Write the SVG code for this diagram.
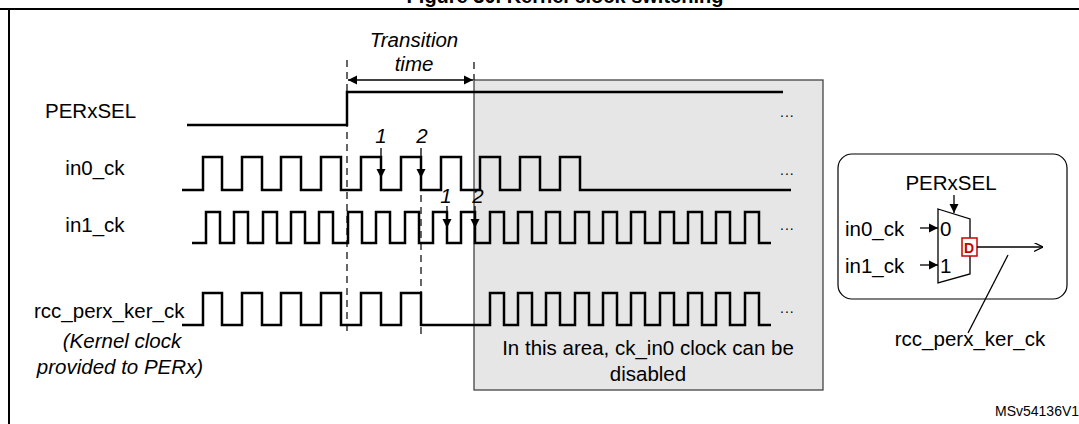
<svg xmlns="http://www.w3.org/2000/svg" width="1079" height="424" viewBox="0 0 1079 424">
<defs>
<style>
text{font-family:"Liberation Sans",Arial,sans-serif;fill:#000}
.lbl{font-size:20.5px}
.it{font-size:20.5px;font-style:italic}
.dots{font-size:14px;letter-spacing:1px}
.wave{fill:none;stroke:#000;stroke-width:2.5;stroke-linejoin:miter}
.dash{fill:none;stroke:#000;stroke-width:1.2;stroke-dasharray:7,5}
.thin{fill:none;stroke:#000;stroke-width:1.3}
</style>
<marker id="ah" viewBox="0 0 10 10" refX="10" refY="5" markerWidth="7" markerHeight="7" orient="auto-start-reverse"><path d="M0,0L10,5L0,10z" fill="#000"/></marker>
<marker id="oa" viewBox="0 0 10 10" refX="10" refY="5" markerWidth="9" markerHeight="9" orient="auto" markerUnits="userSpaceOnUse"><path d="M0,0L10,5L0,10" fill="none" stroke="#000" stroke-width="1.3"/></marker>
</defs>
<rect width="1079" height="424" fill="#fff"/>
<text x="565" y="3" font-size="20" font-weight="bold" text-anchor="middle">Figure 30. Kernel clock switching</text>
<path d="M0,9H1079M9,9V424" fill="none" stroke="#000" stroke-width="2"/>

<g id="gray-area">
<rect x="474" y="80" width="349" height="310" fill="#e6e6e6" stroke="#444" stroke-width="1.3"/>
<text class="lbl" x="648" y="355" text-anchor="middle">In this area, ck_in0 clock can be</text>
<text class="lbl" x="648" y="381" text-anchor="middle">disabled</text>
</g>

<g id="labels">
<text class="lbl" x="45" y="118">PERxSEL</text>
<text class="lbl" x="95" y="175" text-anchor="middle">in0_ck</text>
<text class="lbl" x="95" y="232" text-anchor="middle">in1_ck</text>
<text class="lbl" x="34" y="318">rcc_perx_ker_ck</text>
<text class="it" x="122" y="348" text-anchor="middle">(Kernel clock</text>
<text class="it" x="120" y="374" text-anchor="middle">provided to PERx)</text>
<text class="it" x="414" y="47" text-anchor="middle">Transition</text>
<text class="it" x="414" y="71" text-anchor="middle">time</text>
<text class="dots" x="780" y="117">...</text>
<text class="dots" x="780" y="175">...</text>
<text class="dots" x="780" y="230">...</text>
<text class="dots" x="780" y="313">...</text>
<text class="it" x="381" y="143" text-anchor="middle">1</text>
<text class="it" x="422" y="143" text-anchor="middle">2</text>
<text class="it" x="446" y="203" text-anchor="middle">1</text>
<text class="it" x="478" y="203" text-anchor="middle">2</text>
<text x="995" y="416" font-size="14" fill="#333">MSv54136V1</text>
</g>

<g id="waves">
<path class="wave" d="M187,125H347V92H783"/>
<path class="wave" d="M182,190H203V157H222V190H242V157H262V190H281V157H301V190H321V157H341V190H361V157H381V190H401V157H421V190H441V157H461V190H480V157H500V190H520V157H540V190H560V157H580V190H791"/>
<path class="wave" d="M192,243H206V212H220V243H234V212H248V243H263V212H277V243H291V212H305V243H319V212H333V243H348V212H362V243H376V212H390V243H405V212H419V243H433V212H447V243H461V212H475V243H490V212H504V243H518V212H532V243H546V212H560V243H575V212H589V243H603V212H617V243H631V212H645V243H660V212H674V243H688V212H702V243H716V212H730V243H745V212H759V243H771"/>
<path class="wave" d="M182,325H203V293H222V325H242V293H262V325H281V293H301V325H321V293H341V325H361V293H381V325H401V293H421V325H490V293H504V325H518V293H532V325H546V293H560V325H575V293H589V325H603V293H617V325H631V293H645V325H660V293H674V325H688V293H702V325H716V293H730V325H745V293H759V325H771"/>
</g>

<g id="connectors">
<path class="dash" d="M347,60V335M421,195V335M474,62V80"/>
<line class="thin" x1="348" y1="80" x2="473" y2="80" marker-start="url(#ah)" marker-end="url(#ah)"/>
<line class="thin" x1="381" y1="148" x2="381" y2="178" marker-end="url(#ah)"/>
<line class="thin" x1="421" y1="148" x2="421" y2="178" marker-end="url(#ah)"/>
<line class="thin" x1="447" y1="206" x2="447" y2="228" marker-end="url(#ah)"/>
<line class="thin" x1="475" y1="206" x2="475" y2="228" marker-end="url(#ah)"/>
</g>

<g id="mux-box">
<rect x="838" y="154" width="229" height="145" rx="14" fill="#fff" stroke="#000" stroke-width="1.2"/>
<text class="lbl" x="951" y="190" text-anchor="middle">PERxSEL</text>
<line class="thin" x1="954" y1="195" x2="954" y2="213" marker-end="url(#ah)"/>
<path d="M938,209L970,219V274L938,283Z" fill="#fff" stroke="#000" stroke-width="1.3"/>
<text class="lbl" x="940" y="236">0</text>
<text class="lbl" x="940" y="273">1</text>
<text class="lbl" x="845" y="236">in0_ck</text>
<text class="lbl" x="845" y="273">in1_ck</text>
<line class="thin" x1="920" y1="228" x2="938" y2="228" marker-end="url(#ah)"/>
<line class="thin" x1="920" y1="265" x2="938" y2="265" marker-end="url(#ah)"/>
<rect x="962" y="238" width="15" height="18" fill="#fff" stroke="#c00" stroke-width="1.5"/>
<text x="964" y="253" font-size="14" font-weight="bold" style="fill:#c00">D</text>
<line class="thin" x1="977" y1="247" x2="1043" y2="247" marker-end="url(#oa)"/>
<line class="thin" x1="1008" y1="255" x2="968" y2="333"/>
<text class="lbl" x="970" y="346" text-anchor="middle">rcc_perx_ker_ck</text>
</g>
</svg>
